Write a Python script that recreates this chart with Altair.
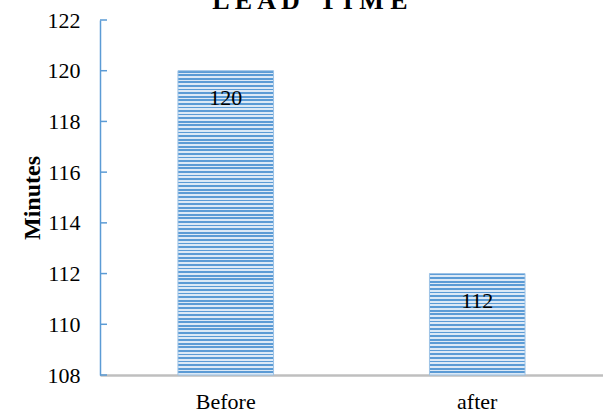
import altair as alt
import pandas as pd

categories = ["Before", "after"]
values = [120, 112]
y_ticks = [108, 110, 112, 114, 116, 118, 120, 122]

Y_MIN, Y_MAX = 108, 122
W, H = 503, 355

df = pd.DataFrame({"stage": categories, "minutes": values})
ticks_df = pd.DataFrame({"t": y_ticks})

DARK = "#5B9BD5"
LIGHT = "#DCE9F6"


def stripes(v, period=3.6):
    h = (v - Y_MIN) / (Y_MAX - Y_MIN) * H
    n = max(1, round(h / period))
    stops = []
    for i in range(n):
        a = i / n
        b = (i + 0.5) / n
        c = (i + 1) / n
        stops += [
            {"offset": a, "color": DARK},
            {"offset": b, "color": DARK},
            {"offset": b, "color": LIGHT},
            {"offset": c, "color": LIGHT},
        ]
    return {"gradient": "linear", "x1": 0, "y1": 0, "x2": 0, "y2": 1, "stops": stops}


x_enc = alt.X(
    "stage:N",
    sort=categories,
    title=None,
    scale=alt.Scale(paddingInner=0.62, paddingOuter=0.31),
    axis=alt.Axis(
        labelAngle=0,
        ticks=False,
        domainColor="#BFBFBF",
        domainWidth=2.5,
        labelFont="Liberation Serif",
        labelFontSize=22,
        labelColor="#000000",
        labelPadding=16,
        grid=False,
    ),
)
y_enc = alt.Y(
    "minutes:Q",
    title="Minutes",
    scale=alt.Scale(domain=[Y_MIN, Y_MAX], zero=False, nice=False),
    axis=alt.Axis(
        values=y_ticks,
        ticks=False,
        domainColor=DARK,
        domainWidth=1.5,
        labelFont="Liberation Serif",
        labelFontSize=22,
        labelColor="#000000",
        labelPadding=20,
        titleFont="Liberation Serif",
        titleFontSize=24,
        titleFontWeight="bold",
        titleColor="#000000",
        titlePadding=3,
        grid=False,
    ),
)

layers = []
for cat, v in zip(categories, values):
    layers.append(
        alt.Chart(df)
        .transform_filter(alt.datum.stage == cat)
        .mark_bar(fill=stripes(v), stroke="#9DC3E6", strokeWidth=1)
        .encode(x=x_enc, y=y_enc, y2=alt.datum(Y_MIN))
    )

labels = (
    alt.Chart(df)
    .mark_text(font="Liberation Serif", fontSize=22, color="#000000", baseline="middle", dy=27)
    .encode(x=alt.X("stage:N", sort=categories), y="minutes:Q", text="minutes:Q")
)

tick_marks = (
    alt.Chart(ticks_df)
    .mark_tick(color=DARK, thickness=1.5, size=7, orient="horizontal", opacity=1)
    .encode(y=alt.Y("t:Q"), x=alt.value(3.5))
)

title_df = pd.DataFrame({"title": ["L E A D\u00a0\u00a0\u00a0T I M E"]})
title_mark = (
    alt.Chart(title_df)
    .mark_text(
        font="Liberation Serif",
        fontSize=26,
        fontWeight="bold",
        color="#000000",
        baseline="alphabetic",
        align="center",
    )
    .encode(text="title:N", x=alt.value(210), y=alt.value(-11))
)

chart = (
    alt.layer(*layers, tick_marks, labels, title_mark)
    .properties(
        width=W,
        height=H,
        autosize=alt.AutoSizeParams(type="none"),
        padding={"left": 100, "top": 20, "right": 0, "bottom": 38},
        background="white",
        view=alt.ViewBackground(strokeOpacity=0, strokeWidth=0),
    )
    .configure(style={"cell": {"strokeOpacity": 0, "strokeWidth": 0}})
    .configure_view(strokeOpacity=0, strokeWidth=0)
    .configure_axis(grid=False)
)

chart.save("out.html", embed_options={"renderer": "svg", "actions": False})
